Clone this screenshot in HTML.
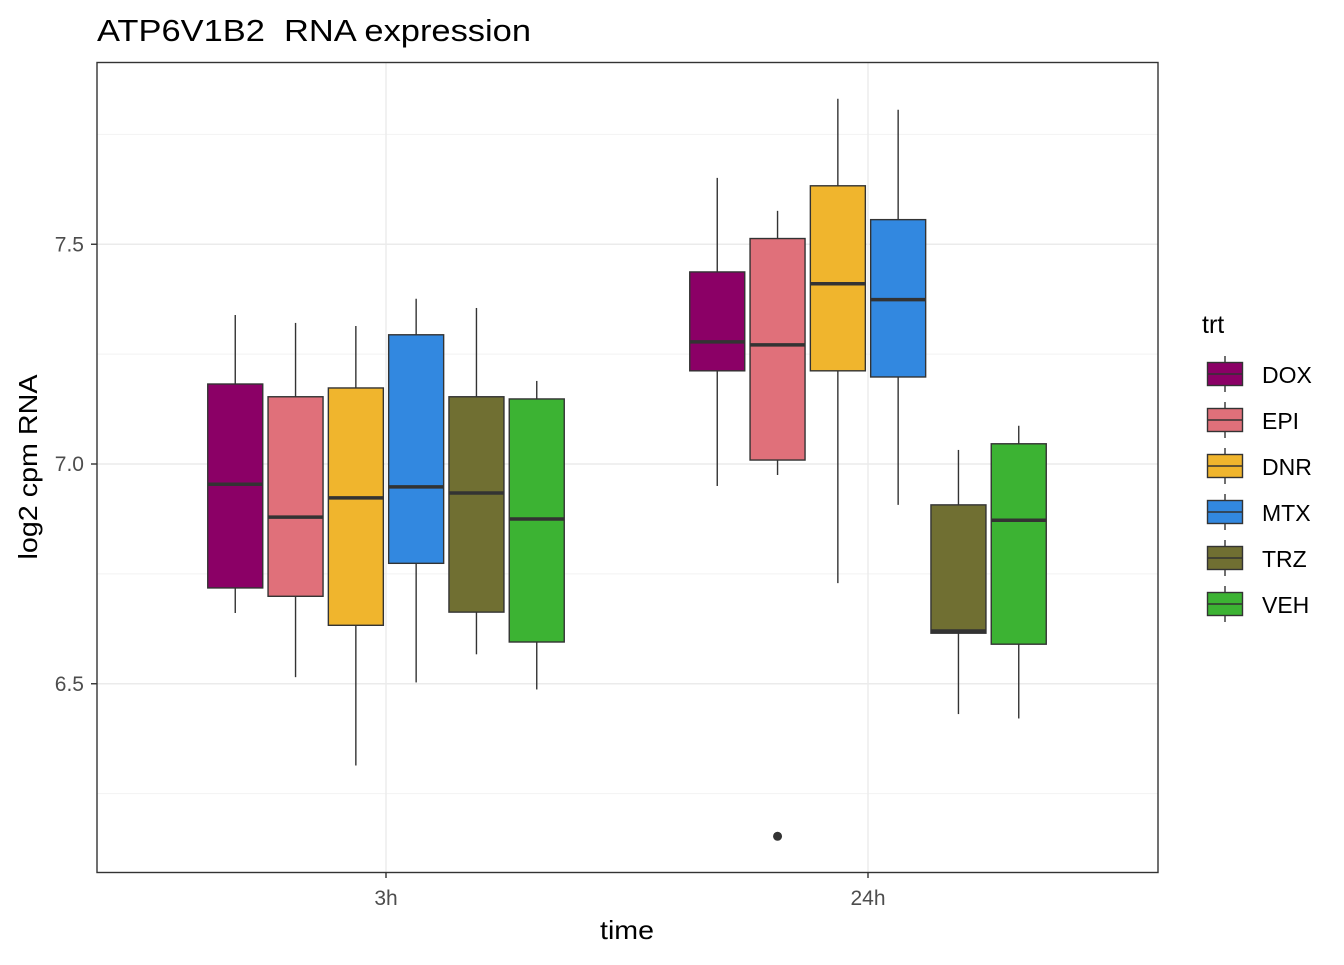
<!DOCTYPE html>
<html><head><meta charset="utf-8"><style>
body{margin:0;background:#fff;}
svg text{font-family:"Liberation Sans",Arial,sans-serif;white-space:pre;}
</style></head><body>
<svg id="chart" width="1344" height="960" xmlns="http://www.w3.org/2000/svg">
<rect width="1344" height="960" fill="#fff"/>
<g id="grid"></g>
<g id="boxes"></g>
<rect x="97" y="62.5" width="1061" height="810" fill="none" stroke="#333" stroke-width="1.4"/>
<g id="axes"></g>
<text x="97" y="41" font-size="31" textLength="434" lengthAdjust="spacingAndGlyphs" fill="#000">ATP6V1B2&#160; RNA expression</text>
<text x="627" y="939" font-size="26" textLength="54" lengthAdjust="spacingAndGlyphs" text-anchor="middle" fill="#000">time</text>
<text transform="translate(37,467) rotate(-90)" font-size="26" textLength="185" lengthAdjust="spacingAndGlyphs" text-anchor="middle" fill="#000">log2 cpm RNA</text>
<g id="legend"></g>
</svg>
<script>
const timepoints=["3h","24h"];
const treatments=["DOX","EPI","DNR","MTX","TRZ","VEH"];
const colors=["#8B0066","#E0707A","#F0B52D","#3288E0","#706F32","#3CB333"];
// [lowWhisker,q1,median,q3,highWhisker] per timepoint per treatment
const stats3h=[[6.661,6.718,6.954,7.182,7.339],[6.515,6.699,6.879,7.153,7.321],[6.314,6.633,6.923,7.173,7.314],[6.503,6.774,6.948,7.294,7.376],[6.567,6.663,6.934,7.153,7.355],[6.487,6.595,6.875,7.148,7.189]];
const stats24h=[[6.950,7.212,7.278,7.437,7.651],[6.975,7.009,7.271,7.513,7.576],[6.729,7.212,7.410,7.633,7.831],[6.907,7.198,7.374,7.556,7.806],[6.431,6.615,6.620,6.907,7.032],[6.421,6.590,6.872,7.046,7.087]];
const outliers=[{t:1,g:1,v:6.153}];
const yTicks=[6.5,7.0,7.5];
const yTickLabels=["6.5","7.0","7.5"];
const yMinor=[6.25,6.75,7.25,7.75];

const NS="http://www.w3.org/2000/svg";
function y(v){return 464-(v-7)*439.5;}
function xc(t){return [386,868][t];}
function xg(t,g){return xc(t)+(g-2.5)*60.3;}
function mk(tag,at,parent){const e=document.createElementNS(NS,tag);for(const k in at)e.setAttribute(k,at[k]);parent.appendChild(e);return e;}
const grid=document.getElementById('grid'),boxes=document.getElementById('boxes'),axes=document.getElementById('axes'),legend=document.getElementById('legend');
yMinor.forEach(v=>{const l=mk('line',{x1:97,x2:1158,y1:y(v),y2:y(v),stroke:'#f2f2f2','stroke-width':1},grid);

});
yTicks.forEach((v,i)=>{const l=mk('line',{x1:97,x2:1158,y1:y(v),y2:y(v),stroke:'#ebebeb','stroke-width':1.4},grid);


const tk=mk('line',{x1:91,x2:97,y1:y(v),y2:y(v),stroke:'#333','stroke-width':1.4},axes);


const t=mk('text',{x:84,y:y(v)+7,'font-size':21,'text-anchor':'end',fill:'#4d4d4d'},axes);t.textContent=yTickLabels[i];

});
timepoints.forEach((tp,t)=>{const l=mk('line',{x1:xc(t),x2:xc(t),y1:62,y2:872,stroke:'#ebebeb','stroke-width':1.4},grid);


const tk=mk('line',{x1:xc(t),x2:xc(t),y1:872,y2:878,stroke:'#333','stroke-width':1.4},axes);


const tx=mk('text',{x:xc(t),y:905,'font-size':21,'text-anchor':'middle',fill:'#4d4d4d'},axes);tx.textContent=tp;

});
[stats3h,stats24h].forEach((S,t)=>{S.forEach((s,g)=>{const x=xg(t,g),hw=27.5;
const grp=mk('g',{},boxes);


mk('line',{x1:x,x2:x,y1:y(s[4]),y2:y(s[3]),stroke:'#333','stroke-width':1.4},grp);
mk('line',{x1:x,x2:x,y1:y(s[1]),y2:y(s[0]),stroke:'#333','stroke-width':1.4},grp);
mk('rect',{x:x-hw,y:y(s[3]),width:hw*2,height:y(s[1])-y(s[3]),fill:colors[g],stroke:'#333','stroke-width':1.4},grp);
mk('line',{x1:x-hw,x2:x+hw,y1:y(s[2]),y2:y(s[2]),stroke:'#333','stroke-width':3.5},grp);});});
outliers.forEach(o=>{const c=mk('circle',{cx:xg(o.t,o.g),cy:y(o.v),r:4.5,fill:'#333'},boxes);

});
const lt=mk('text',{x:1202,y:333,'font-size':25,fill:'#000'},legend);lt.textContent='trt';


treatments.forEach((n,i)=>{const cy=374+i*46;const g=mk('g',{},legend);


mk('line',{x1:1225,x2:1225,y1:cy-18,y2:cy+18,stroke:'#333','stroke-width':1.4},g);
mk('rect',{x:1207.5,y:cy-11.5,width:35,height:23,fill:colors[i],stroke:'#333','stroke-width':1.4},g);
mk('line',{x1:1207.5,x2:1242.5,y1:cy,y2:cy,stroke:'#333','stroke-width':1.4},g);
const t=mk('text',{x:1262,y:cy+9,'font-size':23,fill:'#000'},g);t.textContent=n;});
</script>
</body></html>
